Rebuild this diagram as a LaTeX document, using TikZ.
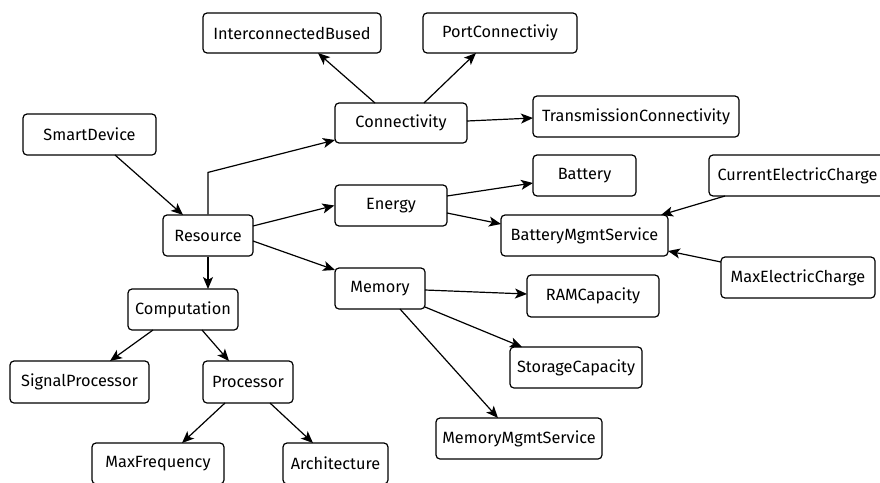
\documentclass[tikz,border=0pt]{standalone}
\usepackage{fontspec}
\setmainfont{Fira Sans}
\usetikzlibrary{arrows.meta,calc}
\tikzset{
  box/.style={draw, line width=1.2pt, rounded corners=4pt, fill=white, inner sep=0pt,
    font=\fontsize{16.3}{19}\selectfont, anchor=center},
  arr/.style={line width=1.2pt, -{Stealth[length=12pt,width=10pt,inset=3pt]}}
}
\newcommand{\bx}[6]{\node[box, minimum width=#4pt, minimum height=#5pt] (#1) at (#2,#3) {#6};}
\begin{document}
\begin{tikzpicture}[x=1pt,y=-1pt]
\useasboundingbox (0,0) rectangle (880,482);
\bx{ib}{292}{33}{178}{40}{InterconnectedBused}
\bx{pc}{500}{33}{154}{40}{PortConnectiviy}
\bx{conn}{401}{123}{132}{40}{Connectivity}
\bx{tc}{636}{116.5}{206}{41}{TransmissionConnectivity}
\bx{sd}{89.5}{134.5}{133}{41}{SmartDevice}
\bx{en}{391}{205.5}{112}{41}{Energy}
\bx{bat}{584.5}{175.5}{103}{41}{Battery}
\bx{cec}{797.5}{175.5}{177}{41}{CurrentElectricCharge}
\bx{bms}{584.5}{235.5}{167}{41}{BatteryMgmtService}
\bx{res}{208}{235.5}{90}{41}{Resource}
\bx{mem}{380}{288.5}{90}{41}{Memory}
\bx{comp}{183}{309.5}{110}{41}{Computation}
\bx{sp}{79.5}{382}{139}{42}{SignalProcessor}
\bx{proc}{248}{382}{90}{42}{Processor}
\bx{mf}{158}{463.5}{132}{41}{MaxFrequency}
\bx{arch}{335.5}{463.5}{105}{41}{Architecture}
\bx{mec}{798}{277.5}{154}{41}{MaxElectricCharge}
\bx{ram}{593}{296}{132}{42}{RAMCapacity}
\bx{sc}{576}{367.5}{132}{41}{StorageCapacity}
\bx{mms}{519}{438.5}{166}{41}{MemoryMgmtService}

\draw[arr] ($(sd)+(25.5,20.5)$) -- ($(res)+(-25,-20.5)$);
\draw[arr] (res.north) -- ($(res.north)+(0,-42)$) -- ($(conn)+(-66,17)$);
\draw[arr] ($(res)+(45,-9.5)$) -- (en.west);
\draw[arr] ($(res)+(45,5.5)$) -- ($(mem)+(-45,-18.5)$);
\draw[arr] (res.south) -- ($(comp)+(25,-20.5)$);
\draw[arr] ($(comp)+(-30,20.5)$) -- ($(sp)+(30.5,-21)$);
\draw[arr] ($(comp)+(19,20.5)$) -- ($(proc)+(-19,-21)$);
\draw[arr] ($(proc)+(-23,21)$) -- ($(mf)+(24,-20.5)$);
\draw[arr] ($(proc)+(22,21)$) -- ($(arch)+(-22.5,-20.5)$);
\draw[arr] ($(conn)+(-26,-20)$) -- ($(ib)+(26,20)$);
\draw[arr] ($(conn)+(23,-20)$) -- ($(pc)+(-24,20)$);
\draw[arr] ($(conn)+(66,-2)$) -- ($(tc)+(-103,1.5)$);
\draw[arr] ($(en)+(56,-9.5)$) -- ($(bat)+(-51.5,7.5)$);
\draw[arr] ($(en)+(56,7.5)$) -- ($(bms)+(-83.5,-11.5)$);
\draw[arr] ($(cec)+(-72.5,20.5)$) -- ($(bms)+(76.5,-20.5)$);
\draw[arr] ($(mec)+(-77,-15.5)$) -- ($(bms)+(83.5,15.5)$);
\draw[arr] ($(mem)+(45,1.5)$) -- ($(ram)+(-66,-2)$);
\draw[arr] ($(mem)+(45,18.5)$) -- ($(sc)+(-54,-20.5)$);
\draw[arr] ($(mem)+(20,20.5)$) -- ($(mms)+(-21,-20.5)$);
\end{tikzpicture}
\end{document}
